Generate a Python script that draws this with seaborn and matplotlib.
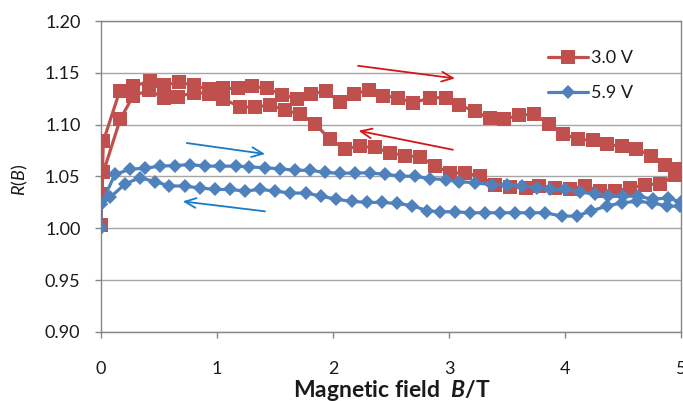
import numpy as np
import pandas as pd
import matplotlib
matplotlib.use("Agg")
import matplotlib.pyplot as plt
import seaborn as sns

# ---- data ----
red_up_B = [0.0, 0.02, 0.16, 0.28, 0.42, 0.54, 0.67, 0.80, 0.93, 1.05, 1.18, 1.30, 1.43, 1.56, 1.69,
            1.81, 1.94, 2.06, 2.18, 2.31, 2.43, 2.56, 2.69, 2.84, 2.97, 3.09, 3.22, 3.35, 3.47, 3.60,
            3.73, 3.86, 3.98, 4.11, 4.24, 4.36, 4.49, 4.61, 4.74, 4.86, 4.97]
red_up_R = [1.003, 1.084, 1.132, 1.137, 1.142, 1.138, 1.141, 1.138, 1.134, 1.135, 1.135, 1.137, 1.135,
            1.129, 1.125, 1.130, 1.132, 1.122, 1.130, 1.133, 1.128, 1.126, 1.121, 1.126, 1.126, 1.119,
            1.113, 1.106, 1.105, 1.109, 1.110, 1.101, 1.091, 1.086, 1.085, 1.081, 1.079, 1.077, 1.070,
            1.061, 1.057]
red_down_B = [4.95, 4.82, 4.69, 4.56, 4.43, 4.30, 4.17, 4.04, 3.91, 3.78, 3.66, 3.53, 3.40, 3.27, 3.14,
              3.01, 2.88, 2.75, 2.62, 2.49, 2.36, 2.23, 2.10, 1.97, 1.845, 1.715, 1.586, 1.457, 1.328,
              1.198, 1.054, 0.93, 0.80, 0.666, 0.543, 0.416, 0.278, 0.165, 0.02, 0.0]
red_down_R = [1.051, 1.043, 1.042, 1.039, 1.036, 1.036, 1.041, 1.038, 1.039, 1.041, 1.039, 1.040, 1.042,
              1.050, 1.0535, 1.0535, 1.060, 1.069, 1.070, 1.073, 1.078, 1.079, 1.077, 1.086, 1.101,
              1.110, 1.114, 1.119, 1.117, 1.117, 1.125, 1.130, 1.131, 1.127, 1.126, 1.133, 1.128, 1.105,
              1.054, 1.033]

blue_up_B = [0.0, 0.0, 0.12, 0.25, 0.38, 0.51, 0.64, 0.77, 0.90, 1.03, 1.16, 1.28, 1.41, 1.54, 1.67,
             1.80, 1.93, 2.06, 2.19, 2.32, 2.45, 2.58, 2.71, 2.84, 2.97, 3.09, 3.22, 3.37, 3.50, 3.63,
             3.76, 3.87, 4.00, 4.13, 4.26, 4.37, 4.50, 4.63, 4.76, 4.89, 5.00]
blue_up_R = [1.000, 1.023, 1.052, 1.057, 1.058, 1.060, 1.0606, 1.0615, 1.060, 1.060, 1.060, 1.0593,
             1.0584, 1.0575, 1.056, 1.056, 1.054, 1.053, 1.0535, 1.0535, 1.052, 1.0505, 1.050, 1.048,
             1.047, 1.045, 1.044, 1.042, 1.042, 1.041, 1.039, 1.0375, 1.0375, 1.035, 1.033, 1.031,
             1.031, 1.031, 1.028, 1.0295, 1.025]
blue_down_B = [4.99, 4.88, 4.75, 4.62, 4.49, 4.36, 4.22, 4.10, 3.97, 3.83, 3.70, 3.57, 3.44, 3.31, 3.18,
               3.05, 2.92, 2.81, 2.68, 2.55, 2.42, 2.29, 2.16, 2.03, 1.90, 1.77, 1.63, 1.50, 1.37, 1.24,
               1.11, 0.98, 0.85, 0.72, 0.59, 0.466, 0.336, 0.21, 0.08, 0.0]
blue_down_R = [1.0214, 1.0214, 1.0247, 1.026, 1.0247, 1.0214, 1.0166, 1.0118, 1.0118, 1.015, 1.015,
               1.015, 1.015, 1.015, 1.015, 1.016, 1.016, 1.017, 1.022, 1.024, 1.025, 1.025, 1.026,
               1.028, 1.031, 1.034, 1.034, 1.036, 1.0375, 1.036, 1.0375, 1.0375, 1.039, 1.0407, 1.041,
               1.045, 1.0488, 1.043, 1.030, 1.023]

series_labels = ["3.0 V", "5.9 V"]
y_ticks = [0.90, 0.95, 1.00, 1.05, 1.10, 1.15, 1.20]
x_ticks = [0, 1, 2, 3, 4, 5]

# annotation arrows (tail -> head) in data coordinates
arrows_red = [((2.216, 1.1568), (3.052, 1.1446)), ((3.034, 1.0758), (2.22, 1.0941))]
arrows_blue = [((0.739, 1.0823), (1.414, 1.0717)), ((1.414, 1.0164), (0.704, 1.026))]

RED = "#C0504D"
BLUE = "#4F81BD"

# ---- style ----
sns.set_style("white")
plt.rcParams["font.family"] = ["Lato", "DejaVu Sans"]
plt.rcParams["mathtext.fontset"] = "custom"
plt.rcParams["mathtext.rm"] = "Lato"
plt.rcParams["mathtext.it"] = "Lato:italic"
plt.rcParams["mathtext.bf"] = "Lato:bold"
plt.rcParams["mathtext.bfit"] = "Lato:italic:bold"

df = pd.concat([
    pd.DataFrame({"B": red_up_B + red_down_B, "R": red_up_R + red_down_R, "series": series_labels[0]}),
    pd.DataFrame({"B": blue_up_B + blue_down_B, "R": blue_up_R + blue_down_R, "series": series_labels[1]}),
], ignore_index=True)

fig = plt.figure(figsize=(6.83, 4.01), dpi=100)
ax = fig.add_axes([101 / 683, 69 / 401, 580 / 683, 311 / 401])

sns.lineplot(data=df[df.series == series_labels[0]], x="B", y="R", sort=False, estimator=None,
             color=RED, lw=2.3, marker="s", markersize=10.5, markeredgewidth=0,
             label=series_labels[0], ax=ax, zorder=3)
sns.lineplot(data=df[df.series == series_labels[1]], x="B", y="R", sort=False, estimator=None,
             color=BLUE, lw=2.3, marker="D", markersize=7.5, markeredgewidth=0,
             label=series_labels[1], ax=ax, zorder=4)

for (t, h) in arrows_red:
    ax.annotate("", xy=h, xytext=t,
                arrowprops=dict(arrowstyle="->,head_length=0.8,head_width=0.35", color="#D01818",
                                lw=1.3, shrinkA=0, shrinkB=0), zorder=5)
for (t, h) in arrows_blue:
    ax.annotate("", xy=h, xytext=t,
                arrowprops=dict(arrowstyle="->,head_length=0.8,head_width=0.35", color="#1A7CC8",
                                lw=1.3, shrinkA=0, shrinkB=0), zorder=5)

ax.set_xlim(0, 5)
ax.set_ylim(0.9, 1.2)
ax.set_xticks(x_ticks)
ax.set_xticklabels([str(v) for v in x_ticks])
ax.set_yticks(y_ticks)
ax.set_yticklabels([f"{v:.2f}" for v in y_ticks])
ax.yaxis.grid(True, color="#A6A6A6", lw=1)
ax.xaxis.grid(False)
ax.set_axisbelow(True)
for s in ax.spines.values():
    s.set_color("#868686")
    s.set_linewidth(1)
    s.set_visible(True)
ax.tick_params(axis="y", direction="out", length=4.3, width=1, color="#868686",
               pad=10.5, labelsize=13, labelcolor="#1a1a1a", left=True)
ax.tick_params(axis="x", direction="out", length=4, width=1, color="#868686",
               pad=17, labelsize=13, labelcolor="#1a1a1a", bottom=True)
ax.set_xlabel("")
ax.set_ylabel("")

fig.text(20 / 683, 1 - 180 / 401, "$R$($B$)", rotation=90, ha="center", va="center",
         fontsize=13, color="#1a1a1a")
fig.text(392 / 683, 4 / 401, "Magnetic field  $\\mathbfit{B}$/T", ha="center",
         va="baseline", fontsize=16.5, fontweight="bold", color="#1a1a1a")

leg = ax.legend(loc="upper left", bbox_to_anchor=(0.771, 0.907), frameon=False, fontsize=13,
                handlelength=2.2, handletextpad=0.15, labelspacing=1.07, borderpad=0,
                borderaxespad=0)
for t in leg.get_texts():
    t.set_color("#1a1a1a")

fig.savefig("out.png", dpi=100)
